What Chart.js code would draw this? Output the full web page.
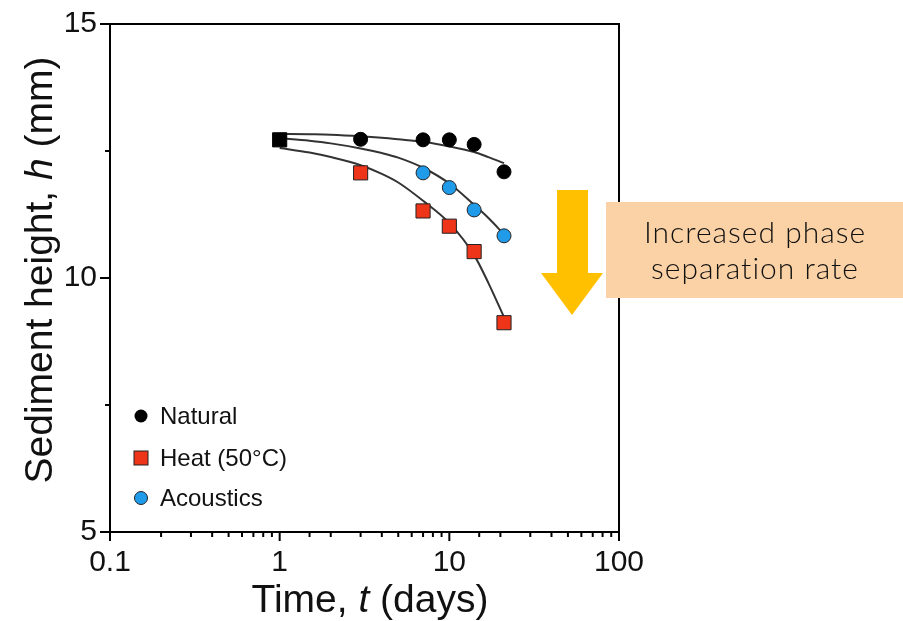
<!DOCTYPE html>
<html lang="en">
<head>
  <meta charset="UTF-8" />
  <title>Sediment height vs time</title>
  <script src="https://cdn.jsdelivr.net/npm/chart.js"></script>
  <style>
    html, body { margin: 0; padding: 0; background: #fff; }
    #wrap { width: 903px; height: 621px; }
  </style>
</head>
<body>
  <div id="wrap"><canvas id="sedChart" width="903" height="621"></canvas></div>

  <script>
    // measured points (days, mm)
    const startDay = [1];
    const startH = [12.72];

    const naturalDays = [3, 7, 10, 14, 21];
    const naturalH = [12.73, 12.72, 12.72, 12.63, 12.09];

    const heatDays = [3, 7, 10, 14, 21];
    const heatH = [12.07, 11.32, 11.02, 10.52, 9.12];

    const acousticDays = [7, 10, 14, 21];
    const acousticH = [12.07, 11.78, 11.34, 10.83];

    // fitted curves
    const fitDays = [1, 1.5, 2, 3, 4, 5, 7, 10, 14, 17, 21];
    const naturalFit = [12.84, 12.83, 12.82, 12.79, 12.76, 12.73, 12.68, 12.59, 12.48, 12.38, 12.26];
    const heatFit = [12.56, 12.47, 12.38, 12.22, 12.05, 11.88, 11.52, 11.08, 10.45, 9.90, 9.23];
    const acousticFit = [12.75, 12.70, 12.65, 12.55, 12.46, 12.37, 12.17, 11.86, 11.44, 11.18, 10.86];

    const yTicks = [5, 7.5, 10, 12.5, 15];
    const xMajor = [0.1, 1, 10, 100];

    const legendNames = ['Natural', 'Heat (50°C)', 'Acoustics'];

    const FONT = "'Liberation Sans', Arial, Helvetica, sans-serif";
    const RED = '#ee3519';
    const BLUE = '#1f9bea';

    const pts = (xs, ys) => xs.map((x, i) => ({ x: x, y: ys[i] }));

    const fitStyle = {
      borderColor: '#333',
      borderWidth: 2,
      pointRadius: 0,
      showLine: true,
      fill: false,
      cubicInterpolationMode: 'monotone',
      order: 5
    };

    // ticks, frame, titles, legend and the annotation
    const decor = {
      id: 'decor',
      afterDraw(chart) {
        const ctx = chart.ctx;
        const a = chart.chartArea;
        const xs = chart.scales.x, ys = chart.scales.y;
        ctx.save();
        ctx.strokeStyle = '#000';
        ctx.lineWidth = 2;

        // top and right frame
        ctx.beginPath();
        ctx.moveTo(a.left, a.top);
        ctx.lineTo(a.right, a.top);
        ctx.lineTo(a.right, a.bottom);
        ctx.stroke();

        // x tick marks
        xs.ticks.forEach(t => {
          const px = xs.getPixelForValue(t.value);
          const major = xMajor.some(m => Math.abs(m - t.value) < 1e-9);
          ctx.beginPath();
          ctx.moveTo(px, a.bottom);
          ctx.lineTo(px, a.bottom + (major ? 9 : 5));
          ctx.stroke();
        });
        // y tick marks
        yTicks.forEach(v => {
          const py = ys.getPixelForValue(v);
          const major = v % 5 === 0;
          ctx.beginPath();
          ctx.moveTo(a.left, py);
          ctx.lineTo(a.left - (major ? 10 : 5), py);
          ctx.stroke();
        });

        // axis titles with italic symbols
        ctx.fillStyle = '#111';
        ctx.textBaseline = 'alphabetic';
        const drawRuns = (runs, cx, cy, rot) => {
          let w = 0;
          runs.forEach(r => { ctx.font = r[1] + ' 39px ' + FONT; w += ctx.measureText(r[0]).width; });
          ctx.save();
          ctx.translate(cx, cy);
          ctx.rotate(rot);
          let x = -w / 2;
          ctx.textAlign = 'left';
          runs.forEach(r => {
            ctx.font = r[1] + ' 39px ' + FONT;
            ctx.fillText(r[0], x, 0);
            x += ctx.measureText(r[0]).width;
          });
          ctx.restore();
        };
        drawRuns([['Time, ', 'normal'], ['t', 'italic'], [' (days)', 'normal']], 370, 612, 0);
        drawRuns([['Sediment height, ', 'normal'], ['h', 'italic'], [' (mm)', 'normal']], 52, 270, -Math.PI / 2);

        // legend
        const rows = [416, 458, 498];
        ctx.font = '24px ' + FONT;
        ctx.textAlign = 'left';
        ctx.textBaseline = 'middle';
        rows.forEach((ry, i) => {
          ctx.lineWidth = 1;
          ctx.strokeStyle = '#222';
          if (i === 0) {
            ctx.fillStyle = '#000';
            ctx.beginPath(); ctx.arc(141, ry, 6.5, 0, Math.PI * 2); ctx.fill();
          } else if (i === 1) {
            ctx.fillStyle = RED;
            ctx.fillRect(134, ry - 7, 14, 14); ctx.strokeRect(134, ry - 7, 14, 14);
          } else {
            ctx.fillStyle = BLUE;
            ctx.beginPath(); ctx.arc(141, ry, 6.5, 0, Math.PI * 2); ctx.fill(); ctx.stroke();
          }
          ctx.fillStyle = '#111';
          ctx.fillText(legendNames[i], 160, ry + 1);
        });

        // orange arrow
        ctx.fillStyle = '#ffc000';
        ctx.beginPath();
        ctx.moveTo(557, 190);
        ctx.lineTo(588, 190);
        ctx.lineTo(588, 273);
        ctx.lineTo(603, 273);
        ctx.lineTo(572, 315);
        ctx.lineTo(541, 273);
        ctx.lineTo(557, 273);
        ctx.closePath();
        ctx.fill();

        // note box
        ctx.fillStyle = '#fbd2a6';
        ctx.fillRect(606, 202, 297, 96);
        ctx.fillStyle = '#111';
        ctx.font = '300 30px Lato, ' + FONT;
        ctx.letterSpacing = '1px';
        ctx.textAlign = 'center';
        ctx.textBaseline = 'alphabetic';
        ctx.fillText('Increased phase', 755, 243);
        ctx.fillText('separation rate', 755, 279);
        ctx.restore();
      }
    };

    new Chart(document.getElementById('sedChart'), {
      type: 'scatter',
      data: {
        datasets: [
          {
            label: 'start',
            data: pts(startDay, startH),
            pointStyle: 'rect',
            pointRadius: 10,
            backgroundColor: '#000',
            borderColor: '#000',
            borderWidth: 1,
            order: 0
          },
          {
            label: legendNames[0],
            data: pts(naturalDays, naturalH),
            pointStyle: 'circle',
            pointRadius: 7,
            backgroundColor: '#000',
            borderColor: '#000',
            borderWidth: 1,
            order: 1
          },
          {
            label: legendNames[1],
            data: pts(heatDays, heatH),
            pointStyle: 'rect',
            pointRadius: 10,
            backgroundColor: RED,
            borderColor: '#222',
            borderWidth: 1,
            order: 1
          },
          {
            label: legendNames[2],
            data: pts(acousticDays, acousticH),
            pointStyle: 'circle',
            pointRadius: 7,
            backgroundColor: BLUE,
            borderColor: '#222',
            borderWidth: 1,
            order: 1
          },
          Object.assign({ label: 'fit natural', data: pts(fitDays, naturalFit) }, fitStyle),
          Object.assign({ label: 'fit heat', data: pts(fitDays, heatFit) }, fitStyle),
          Object.assign({ label: 'fit acoustics', data: pts(fitDays, acousticFit) }, fitStyle)
        ]
      },
      options: {
        responsive: false,
        animation: false,
        layout: { padding: { top: 24, right: 284, left: 0, bottom: 0 } },
        plugins: {
          legend: { display: false },
          tooltip: { enabled: false }
        },
        scales: {
          x: {
            type: 'logarithmic',
            min: 0.1,
            max: 100,
            afterFit: s => { s.height = 89; s.paddingLeft = 0; s.paddingRight = 0; },
            border: { display: true, color: '#000', width: 2 },
            grid: { display: true, drawOnChartArea: false, drawTicks: false },
            ticks: {
              autoSkip: false,
              maxRotation: 0,
              padding: 13,
              color: '#111',
              font: { family: FONT, size: 30 },
              callback: v => (xMajor.some(m => Math.abs(m - v) < 1e-9) ? String(v) : '')
            }
          },
          y: {
            min: 5,
            max: 15,
            afterFit: s => { s.width = 110; s.paddingTop = 0; s.paddingBottom = 0; },
            afterBuildTicks: s => { s.ticks = yTicks.map(v => ({ value: v })); },
            border: { display: true, color: '#000', width: 2 },
            grid: { display: true, drawOnChartArea: false, drawTicks: false },
            ticks: {
              padding: 13,
              color: '#111',
              font: { family: FONT, size: 30 },
              callback: v => (v % 5 === 0 ? String(v) : '')
            }
          }
        }
      },
      plugins: [decor]
    });
  </script>
</body>
</html>
